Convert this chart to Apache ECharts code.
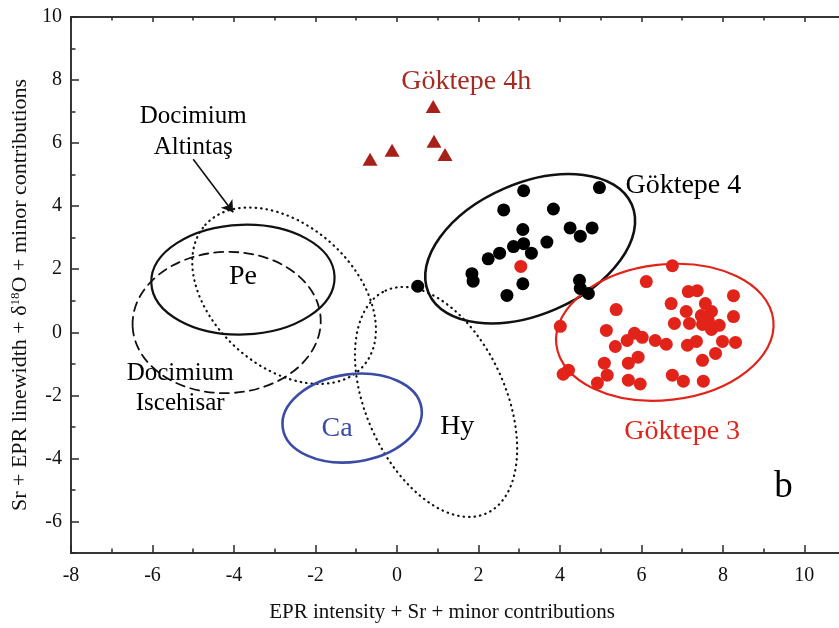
<!DOCTYPE html>
<html>
<head>
<meta charset="utf-8">
<script src="https://cdn.jsdelivr.net/npm/echarts@6/dist/echarts.min.js"></script>
<style>html,body{margin:0;padding:0;background:#fff;}#chart{width:839px;height:628px;}</style>
</head>
<body>
<div id="chart"></div>
<script>
// ---- axis ticks ----
const xTickValues = [-8, -6, -4, -2, 0, 2, 4, 6, 8, 10];
const xMinorTicks = [-7, -5, -3, -1, 1, 3, 5, 7, 9];
const yTickValues = [-6, -4, -2, 0, 2, 4, 6, 8, 10];
const yMinorTicks = [-7, -5, -3, -1, 1, 3, 5, 7, 9];
const X_MIN = -8, X_MAX = 10.85, Y_MIN = -7, Y_MAX = 10;

// ---- Göktepe 4 (black dots) ----
const g4x = [3.11, 2.62, 3.84, 4.97, 3.09, 4.25, 4.79, 4.50, 3.68, 3.11, 2.86, 3.30, 2.52, 2.24, 1.84, 1.87, 3.09, 2.70, 4.48, 4.50, 4.70, 0.51];
const g4y = [4.49, 3.88, 3.91, 4.59, 3.26, 3.31, 3.31, 3.05, 2.86, 2.81, 2.72, 2.51, 2.51, 2.33, 1.86, 1.62, 1.54, 1.17, 1.65, 1.39, 1.23, 1.46];

// ---- Göktepe 3 (red dots) ----
const g3x = [6.76, 6.12, 8.26, 7.15, 7.37, 6.73, 5.38, 7.57, 7.72, 7.10, 8.26, 6.81, 7.18, 7.50, 7.72, 7.91, 4.01, 5.14, 5.83, 5.65, 6.02, 6.34, 6.61, 5.36, 7.13, 7.35, 7.99, 8.31, 7.82, 5.92, 5.68, 7.50, 5.09, 4.21, 4.08, 5.16, 4.92, 5.68, 5.97, 6.76, 7.03, 7.52, 7.47, 7.64, 3.04];
const g3y = [2.11, 1.61, 1.16, 1.29, 1.32, 0.91, 0.72, 0.91, 0.66, 0.66, 0.50, 0.28, 0.28, 0.25, 0.09, 0.22, 0.19, 0.06, -0.03, -0.26, -0.16, -0.26, -0.38, -0.45, -0.41, -0.29, -0.29, -0.32, -0.67, -0.79, -0.98, -0.89, -0.98, -1.20, -1.33, -1.36, -1.61, -1.52, -1.64, -1.36, -1.55, -1.55, 0.53, 0.38, 2.09];

// ---- Göktepe 4h (triangles) ----
const g4hx = [-0.66, -0.12, 0.89, 0.91, 1.18];
const g4hy = [5.49, 5.77, 7.16, 6.06, 5.64];

// ---- ellipses: [centerX, centerY, semiAxisX(x units), semiAxisY(y units), rotation deg] ----
const ellipsePe = [-3.78, 1.67, 2.25, 1.74, 2];
const ellipseIscehisar = [-4.18, 0.31, 2.31, 2.24, 2];
const ellipseAltintas = [-2.77, 1.16, 2.60, 2.24, -42];
const ellipseCa = [-1.10, -2.72, 1.72, 1.39, 8];
const ellipseHy = [0.96, -2.21, 3.00, 2.21, -65.6];
const ellipseG4 = [3.27, 2.65, 2.72, 2.08, 23.5];
const ellipseG3 = [6.575, 0.0, 2.68, 2.15, 6.4];

// ---- arrow (Docimium Altintaş pointer) ----
const arrowFrom = [-5.00, 5.49];
const arrowTo = [-4.02, 3.81];

// ---- annotations ----
const annoTexts = ['Göktepe 4h', 'Docimium\nAltintaş', 'Pe', 'Docimium\nIscehisar', 'Ca', 'Hy', 'Göktepe 4', 'Göktepe 3', 'b'];
const annoX = [1.70, -5.00, -3.78, -5.32, -1.47, 1.48, 7.03, 7.00, 9.49];
const annoY = [7.95, 6.36, 1.76, -1.77, -3.06, -3.00, 4.64, -3.16, -4.93];

const SERIF = '"Liberation Serif", "DejaVu Serif", serif';
const AXIS_COLOR = '#2a2a2a';
const annoStyles = [
  {color: '#a52a22', fontSize: 28},
  {color: '#000', fontSize: 25, lineHeight: 31},
  {color: '#000', fontSize: 28},
  {color: '#000', fontSize: 25, lineHeight: 30},
  {color: '#3a4ca6', fontSize: 28},
  {color: '#000', fontSize: 28},
  {color: '#000', fontSize: 28},
  {color: '#e2231a', fontSize: 28},
  {color: '#000', fontSize: 37}
];

const zip = (xs, ys) => xs.map((x, i) => [x, ys[i]]);

function ellipseSeries(params, stroke, lineWidth, lineDash) {
  return {
    type: 'custom',
    coordinateSystem: 'cartesian2d',
    encode: {x: 0, y: 1},
    silent: true,
    data: [params],
    renderItem: function (p, api) {
      const c = api.coord([api.value(0), api.value(1)]);
      const s = api.size([api.value(2), api.value(3)]);
      return {
        type: 'ellipse',
        x: c[0], y: c[1],
        rotation: api.value(4) * Math.PI / 180,
        shape: {cx: 0, cy: 0, rx: s[0], ry: s[1]},
        style: {fill: 'none', stroke: stroke, lineWidth: lineWidth, lineDash: lineDash || null, lineCap: 'round'}
      };
    }
  };
}

const axisLineStyle = {color: AXIS_COLOR, width: 1.5};
function tickAxis(kind, pos, values, len, extra) {
  const base = {
    type: 'value', position: pos,
    min: kind === 'x' ? X_MIN : Y_MIN,
    max: kind === 'x' ? X_MAX : Y_MAX,
    axisLine: {show: true, onZero: false, lineStyle: axisLineStyle},
    axisTick: {show: true, inside: true, length: len, customValues: values, lineStyle: {color: AXIS_COLOR, width: 1.5}},
    axisLabel: {show: false},
    splitLine: {show: false}
  };
  return Object.assign(base, extra || {});
}

const chart = echarts.init(document.getElementById('chart'), null, {renderer: 'canvas'});
const option = {
  animation: false,
  backgroundColor: '#fff',
  grid: {left: 71, right: 0, top: 17, bottom: 72, containLabel: false},
  xAxis: [
    tickAxis('x', 'bottom', xTickValues, 8, {
      axisLabel: {show: true, customValues: xTickValues, fontFamily: SERIF, fontSize: 20, color: '#111', margin: 13},
      name: 'EPR intensity + Sr + minor contributions',
      nameLocation: 'middle', nameGap: 49,
      nameTextStyle: {fontFamily: SERIF, fontSize: 21, color: '#111', padding: [0, 26, 0, 0]}
    }),
    tickAxis('x', 'bottom', xMinorTicks, 4.5),
    tickAxis('x', 'top', xTickValues, 5),
    tickAxis('x', 'top', xMinorTicks, 3.5)
  ],
  yAxis: [
    tickAxis('y', 'left', yTickValues, 8, {
      axisLabel: {show: true, customValues: yTickValues, fontFamily: SERIF, fontSize: 20, color: '#111', margin: 9},
      name: 'Sr + EPR linewidth + δ{sup|18}O + minor contributions',
      nameLocation: 'middle', nameGap: 33,
      nameTextStyle: {fontFamily: SERIF, fontSize: 22, color: '#111', padding: [0, 20, 0, 0],
        rich: {sup: {fontFamily: SERIF, fontSize: 13, color: '#111', verticalAlign: 'top'}}}
    }),
    tickAxis('y', 'left', yMinorTicks, 4.5)
  ],
  series: [
    ellipseSeries(ellipseIscehisar, '#111', 1.8, [9, 6]),
    ellipseSeries(ellipseAltintas, '#111', 2.2, [0.5, 5]),
    ellipseSeries(ellipseHy, '#111', 2.2, [0.5, 5]),
    ellipseSeries(ellipsePe, '#111', 2.2),
    ellipseSeries(ellipseCa, '#3a4ca6', 2.6),
    ellipseSeries(ellipseG4, '#111', 2.6),
    ellipseSeries(ellipseG3, '#e2231a', 2.2),
    {
      type: 'scatter', name: 'Göktepe 3', data: zip(g3x, g3y),
      symbol: 'circle', symbolSize: 13, itemStyle: {color: '#e2231a', opacity: 1}, silent: true
    },
    {
      type: 'scatter', name: 'Göktepe 4', data: zip(g4x, g4y),
      symbol: 'circle', symbolSize: 13, itemStyle: {color: '#000', opacity: 1}, silent: true
    },
    {
      type: 'scatter', name: 'Göktepe 4h', data: zip(g4hx, g4hy),
      symbol: 'triangle', symbolSize: [15, 13], itemStyle: {color: '#a8201a', opacity: 1}, silent: true
    },
    {
      type: 'lines', coordinateSystem: 'cartesian2d', silent: true,
      symbol: ['none', 'arrow'], symbolSize: 11,
      lineStyle: {color: '#111', width: 1.6, opacity: 1},
      data: [{coords: [arrowFrom, arrowTo]}]
    },
    {
      type: 'custom', coordinateSystem: 'cartesian2d', silent: true, z: 10,
      encode: {x: 0, y: 1},
      data: annoTexts.map((t, i) => [annoX[i], annoY[i], i]),
      renderItem: function (p, api) {
        const i = api.value(2);
        const c = api.coord([api.value(0), api.value(1)]);
        const st = annoStyles[i];
        return {
          type: 'text', x: c[0], y: c[1],
          style: {
            text: annoTexts[i], fill: st.color, opacity: 1,
            font: st.fontSize + 'px ' + SERIF,
            lineHeight: st.lineHeight || st.fontSize,
            align: 'center', verticalAlign: 'middle'
          }
        };
      }
    }
  ]
};
chart.setOption(option);
</script>
</body>
</html>
